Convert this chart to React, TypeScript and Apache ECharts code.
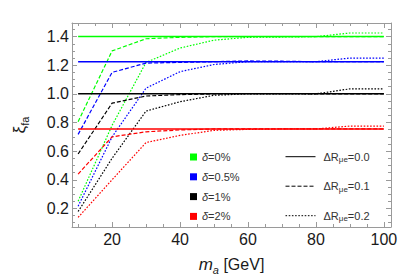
import React, { useEffect, useRef } from "react";
import * as echarts from "echarts";

const mass = [10, 20, 30, 40, 50, 60, 70, 80, 90, 100];

// δ = 0 %
const green00 = [1.4, 1.4, 1.4, 1.4, 1.4, 1.4, 1.4, 1.4, 1.4, 1.4];
const green01 = [0.806, 1.3, 1.385, 1.395, 1.4, 1.4, 1.4, 1.4, 1.4, 1.4];
const green02 = [0.25, 0.78, 1.22, 1.32, 1.375, 1.395, 1.397, 1.4, 1.425, 1.425];
// δ = 0.5 %
const blue00 = [1.225, 1.225, 1.225, 1.225, 1.225, 1.225, 1.225, 1.225, 1.225, 1.225];
const blue01 = [0.717, 1.15, 1.215, 1.22, 1.225, 1.23, 1.228, 1.225, 1.225, 1.225];
const blue02 = [0.215, 0.7, 1.04, 1.155, 1.205, 1.225, 1.225, 1.225, 1.25, 1.25];
// δ = 1 %
const black00 = [1.0, 1.0, 1.0, 1.0, 1.0, 1.0, 1.0, 1.0, 1.0, 1.0];
const black01 = [0.58, 0.935, 0.985, 0.995, 1.0, 1.002, 1.002, 1.0, 1.0, 1.0];
const black02 = [0.178, 0.55, 0.88, 0.945, 0.99, 1.0, 1.0, 1.0, 1.035, 1.035];
// δ = 2 %
const red00 = [0.755, 0.755, 0.755, 0.755, 0.755, 0.755, 0.755, 0.755, 0.755, 0.755];
const red01 = [0.44, 0.7, 0.735, 0.748, 0.755, 0.755, 0.755, 0.755, 0.755, 0.755];
const red02 = [0.137, 0.4, 0.66, 0.71, 0.745, 0.752, 0.755, 0.755, 0.775, 0.775];

const deltaNames = ["δ=0%", "δ=0.5%", "δ=1%", "δ=2%"];
const deltaColors = ["#00ff00", "#0000ff", "#000000", "#ff0000"];
const drNames = ["ΔR_μe=0.0", "ΔR_μe=0.1", "ΔR_μe=0.2"];

const xMajor = [20, 40, 60, 80, 100];
const xMinor = [10, 15, 25, 30, 35, 45, 50, 55, 65, 70, 75, 85, 90, 95, 100];
const yMajor = [0.2, 0.4, 0.6, 0.8, 1.0, 1.2, 1.4];
const yMinor = [0.1, 0.15, 0.25, 0.3, 0.35, 0.45, 0.5, 0.55, 0.65, 0.7, 0.75, 0.85, 0.9, 0.95, 1.05, 1.1, 1.15, 1.25, 1.3, 1.35, 1.45];

const X_MIN = 8.2;
const X_MAX = 102.1;
const Y_MIN = 0.07;
const Y_MAX = 1.495;

const FONT = "'Liberation Sans', Arial, sans-serif";
const FRAME = "#9a9a9a";

const DASH = [4, 2];
const DOT = [1.6, 1.6];

export default function App() {
  const ref = useRef<HTMLDivElement>(null);

  useEffect(() => {
    if (!ref.current) return;
    const chart = echarts.init(ref.current, null, { renderer: "svg" });

    const pair = (ys: number[]) => mass.map((m, i) => [m, ys[i]]);
    const groups = [
      [green00, green01, green02],
      [blue00, blue01, blue02],
      [black00, black01, black02],
      [red00, red01, red02],
    ];
    const series: any[] = [];
    groups.forEach((g, gi) => {
      g.forEach((ys, k) => {
        series.push({
          type: "line",
          name: k === 0 ? deltaNames[gi] : deltaNames[gi] + " " + drNames[k],
          data: pair(ys),
          color: deltaColors[gi],
          symbol: "none",
          showSymbol: false,
          z: k === 0 ? 3 : 2,
          lineStyle: {
            width: k === 0 ? 1.5 : 1.2,
            type: k === 0 ? "solid" : k === 1 ? DASH : DOT,
            color: deltaColors[gi],
          },
          silent: true,
        });
      });
    });
    drNames.forEach((n, k) => {
      series.push({
        type: "line",
        name: n,
        data: [],
        color: "#000",
        symbol: "none",
        lineStyle: { width: 1, type: k === 0 ? "solid" : k === 1 ? DASH : DOT, color: "#000" },
      });
    });

    const axisLine = { show: true, lineStyle: { color: FRAME, width: 1 } };
    const tickStyle = { color: FRAME, width: 1 };
    const labelStyle = { fontSize: 16, color: "#1a1a1a", fontFamily: FONT };

    const xAxis = (position: string, major: boolean, labels: boolean, extra: any = {}) => ({
      type: "value",
      position,
      min: X_MIN,
      max: X_MAX,
      gridIndex: 0,
      axisLine: major ? axisLine : { show: false },
      axisTick: { show: true, inside: true, length: major ? 5 : 3, lineStyle: tickStyle, customValues: major ? xMajor : xMinor },
      axisLabel: labels ? { show: true, customValues: xMajor, margin: 4, ...labelStyle } : { show: false },
      splitLine: { show: false },
      ...extra,
    });
    const yAxis = (position: string, major: boolean, labels: boolean, extra: any = {}) => ({
      type: "value",
      position,
      min: Y_MIN,
      max: Y_MAX,
      gridIndex: 0,
      axisLine: major ? axisLine : { show: false },
      axisTick: { show: true, inside: true, length: major ? 5 : 3, lineStyle: tickStyle, customValues: major ? yMajor : yMinor },
      axisLabel: labels
        ? { show: true, customValues: yMajor, margin: 3, formatter: (v: number) => v.toFixed(1), ...labelStyle }
        : { show: false },
      splitLine: { show: false },
      ...extra,
    });

    const option: any = {
      animation: false,
      textStyle: { fontFamily: FONT },
      grid: { left: 50, right: 24, top: 23, bottom: 46, containLabel: false },
      xAxis: [
        xAxis("bottom", true, true, {
          name: "{i|m}{s|a} [GeV]",
          nameLocation: "middle",
          nameGap: 26,
          nameTextStyle: {
            fontSize: 16,
            color: "#1a1a1a",
            fontFamily: FONT,
            lineHeight: 22,
            rich: {
              i: { fontStyle: "italic", fontSize: 17, lineHeight: 22, fontFamily: FONT, color: "#1a1a1a" },
              s: { fontStyle: "italic", fontSize: 11, lineHeight: 10, verticalAlign: "bottom", fontFamily: FONT, color: "#1a1a1a" },
            },
          },
        }),
        xAxis("bottom", false, false),
        xAxis("top", true, false),
        xAxis("top", false, false),
      ],
      yAxis: [
        yAxis("left", true, true, {
          name: "{g|ξ}{s|fa}",
          nameLocation: "middle",
          nameRotate: 90,
          nameGap: 42,
          nameTextStyle: {
            fontSize: 16,
            color: "#1a1a1a",
            fontFamily: FONT,
            lineHeight: 22,
            rich: {
              g: { fontSize: 17, lineHeight: 22, fontFamily: FONT, color: "#1a1a1a" },
              s: { fontSize: 11, lineHeight: 10, verticalAlign: "bottom", fontFamily: FONT, color: "#1a1a1a" },
            },
          },
        }),
        yAxis("left", false, false),
        yAxis("right", true, false),
        yAxis("right", false, false),
      ],
      legend: [
        {
          left: 185,
          top: 145,
          orient: "vertical",
          itemWidth: 7,
          itemHeight: 7,
          itemGap: 5.8,
          selectedMode: false,
          data: deltaNames.map((n) => ({ name: n, icon: "rect", itemStyle: { borderWidth: 0 } })),
          formatter: (n: string) => "{i|δ}" + n.slice(1),
          textStyle: {
            fontSize: 11,
            color: "#333",
            lineHeight: 14,
            fontFamily: FONT,
            rich: { i: { fontStyle: "italic", fontSize: 11, lineHeight: 14, color: "#333", fontFamily: FONT } },
          },
        },
        {
          left: 280,
          top: 144.7,
          orient: "vertical",
          itemWidth: 30,
          itemHeight: 14,
          itemGap: 15.5,
          selectedMode: false,
          itemStyle: { opacity: 0 },
          lineStyle: { width: 1 },
          data: drNames,
          formatter: (n: string) => {
            const [head, rest] = n.split("_");
            const sub = rest.slice(0, 2);
            const tail = rest.slice(2);
            return head + "{s|" + sub + "}" + tail;
          },
          textStyle: {
            fontSize: 11,
            color: "#333",
            lineHeight: 14,
            fontFamily: FONT,
            padding: [0, 0, 0, 3],
            rich: { s: { fontSize: 8, lineHeight: 8, verticalAlign: "bottom", color: "#333", fontFamily: FONT } },
          },
        },
      ],
      series,
    };

    chart.setOption(option);
    return () => chart.dispose();
  }, []);

  return (
    <div
      ref={ref}
      style={{ position: "fixed", left: 0, top: 0, width: 415, height: 280, background: "#fff" }}
    />
  );
}
